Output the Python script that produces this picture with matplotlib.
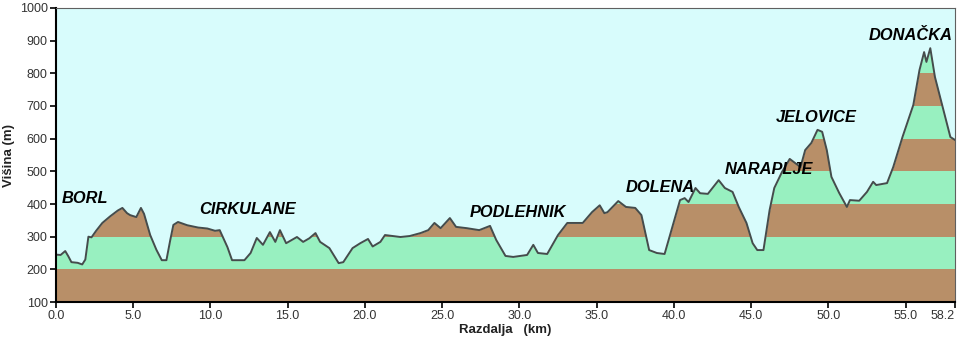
import matplotlib.pyplot as plt
import numpy as np

# distance along the route (km) and altitude (m)
dist = [0.0, 0.3, 0.6, 0.8, 1.0, 1.4, 1.7, 1.9, 2.1, 2.3, 2.6, 3.0, 3.5, 4.0, 4.3,
        4.6, 4.8, 5.2, 5.5, 5.7, 6.1, 6.5, 6.85, 7.15, 7.4, 7.6, 7.9, 8.5, 9.2,
        9.8, 10.3, 10.6, 11.1, 11.4, 12.2, 12.6, 13.0, 13.4, 13.85, 14.2, 14.5,
        14.9, 15.6, 16.0, 16.4, 16.8, 17.1, 17.7, 18.3, 18.6, 19.2, 19.7, 20.2,
        20.5, 21.0, 21.3, 22.3, 22.9, 23.6, 24.1, 24.5, 24.9, 25.5, 25.9, 26.6,
        27.4, 28.1, 28.5, 29.1, 29.6, 30.5, 30.9, 31.2, 31.8, 32.5, 33.1, 34.1,
        34.7, 35.2, 35.5, 35.7, 36.4, 36.9, 37.5, 37.9, 38.4, 38.9, 39.4, 39.9,
        40.4, 40.7, 40.95, 41.4, 41.7, 42.2, 42.9, 43.3, 43.8, 44.2, 44.7, 45.1,
        45.4, 45.8, 46.2, 46.5, 47.0, 47.5, 48.2, 48.5, 48.9, 49.3, 49.6, 49.9,
        50.2, 50.7, 51.2, 51.4, 52.0, 52.5, 52.9, 53.1, 53.8, 54.2, 54.8, 55.5,
        55.9, 56.2, 56.35, 56.6, 56.9, 57.4, 57.9, 58.2]
alt = [245, 244, 256, 240, 222, 220, 215, 230, 300, 298, 318, 342, 362, 380, 388,
       372, 366, 360, 388, 370, 305, 260, 228, 228, 290, 336, 345, 335, 328,
       325, 318, 320, 268, 228, 228, 250, 296, 275, 314, 284, 320,
       280, 299, 284, 295, 311, 284, 265, 219, 222, 265, 280, 293,
       270, 284, 305, 299, 302, 311, 320, 342, 326, 357, 330, 326,
       320, 333, 290, 241, 238, 244, 275, 250, 247, 305, 342, 342,
       375, 396, 372, 375, 409, 391, 388, 366, 259, 250, 247, 330,
       412, 418, 406, 449, 433, 431, 473, 449, 437, 391, 342, 280,
       259, 259, 382, 449, 498, 538, 513, 565, 587, 627, 621, 565,
       483, 434, 391, 412, 410, 437, 468, 458, 464, 513, 605, 703,
       810, 865, 835, 877, 789, 697, 605, 596]

# climb names and where they are written
names = ['BORL', 'CIRKULANE', 'PODLEHNIK', 'DOLENA', 'NARAPLJE', 'JELOVICE', 'DONAČKA']
name_x = [0.4, 9.3, 26.8, 36.9, 43.3, 46.6, 52.6]
name_y = [418, 382, 375, 452, 507, 666, 917]

sky = '#d8fcfc'
green = '#98f0c0'
brown = '#b88f68'

fig = plt.figure(figsize=(9.6, 3.43), dpi=100)
ax = fig.add_axes([0.0583, 0.1195, 0.9365, 0.8572])

x = np.array(dist)
y = np.array(alt)

# 100 m altitude bands, then the sky drawn over everything above the profile
for i, lo in enumerate(range(100, 1000, 100)):
    col = brown if i % 2 == 0 else green
    ax.axhspan(lo, lo + 100, color=col, lw=0, zorder=0)
ax.fill_between(x, y, 1000, color=sky, lw=0, zorder=1)

ax.plot(x, y, color='#454c4c', lw=1.4, zorder=2)

for n, tx, ty in zip(names, name_x, name_y):
    ax.text(tx, ty, n, fontsize=11.8, fontweight='heavy', fontstyle='italic',
            family='Liberation Sans', color='black', va='center', ha='left',
            zorder=3)

ax.set_xlim(0, 58.2)
ax.set_ylim(100, 1000)
ax.set_xticks([0, 5, 10, 15, 20, 25, 30, 35, 40, 45, 50, 55, 58.2])
ax.set_xticklabels(['0.0', '5.0', '10.0', '15.0', '20.0', '25.0', '30.0', '35.0',
                    '40.0', '45.0', '50.0', '55.0', '58.2'])
ax.set_yticks(range(100, 1001, 100))
ax.tick_params(labelsize=9, labelcolor='#333333', length=4, width=1.2,
               direction='out', pad=2)
for lab in ax.get_xticklabels() + ax.get_yticklabels():
    lab.set_family('Liberation Sans')
ax.get_xticklabels()[-1].set_horizontalalignment('right')

ax.spines['left'].set_linewidth(1.5)
ax.spines['bottom'].set_linewidth(1.5)
ax.spines['top'].set_color('#606060')
ax.spines['right'].set_color('#606060')
ax.spines['top'].set_linewidth(0.8)
ax.spines['right'].set_linewidth(0.8)

ax.set_xlabel('Razdalja   (km)', fontsize=9.5, fontweight='bold',
              family='Liberation Sans', labelpad=1, color='#222222')
ax.set_ylabel('Višina (m)', fontsize=9.5, fontweight='bold',
              family='Liberation Sans', labelpad=3, color='#222222')

fig.savefig('out.png', dpi=100, facecolor='white')
